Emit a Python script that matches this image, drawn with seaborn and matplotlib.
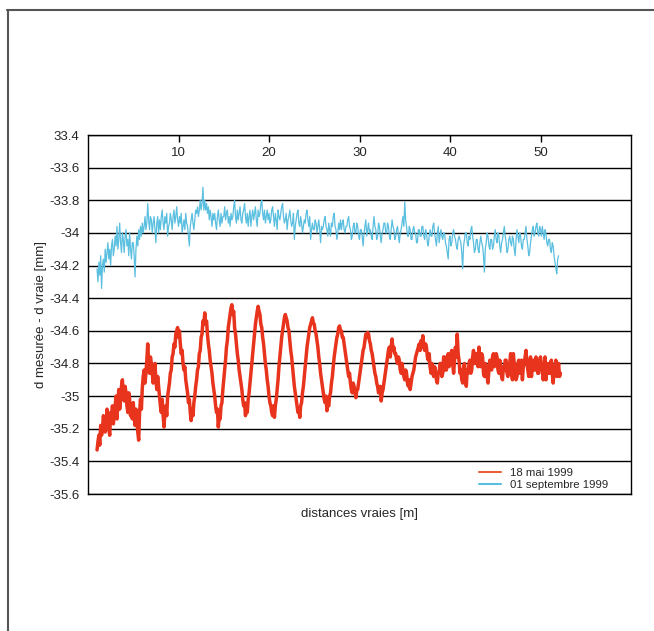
import numpy as np
import pandas as pd
import matplotlib
matplotlib.use("Agg")
import matplotlib.pyplot as plt
from matplotlib.lines import Line2D
import seaborn as sns

# ---------------- data ----------------
red_label = "18 mai 1999"
blue_label = "01 septembre 1999"

# distance of first sample [m] and sampling step [m]
red_start, red_step = 1.0, 0.1
red_values = [
    -35.33, -35.28, -35.24, -35.30, -35.18, -35.24, -35.20, -35.12, -35.16, -35.22,
    -35.19, -35.08, -35.14, -35.20, -35.24, -35.10, -35.16, -35.06, -35.17, -35.12,
    -35.06, -35.00, -35.14, -35.04, -34.96, -35.08, -35.02, -34.94, -34.90, -35.00,
    -35.03, -34.94, -34.98, -35.06, -35.10, -34.98, -35.02, -35.12, -35.06, -35.14,
    -35.04, -35.12, -35.18, -35.08, -35.14, -35.22, -35.27, -35.10, -35.02, -35.08,
    -34.95, -34.88, -34.84, -34.92, -34.86, -34.78, -34.68, -34.80, -34.86, -34.76,
    -34.80, -34.86, -34.92, -34.84, -34.80, -34.90, -34.96, -34.88, -34.94, -35.00,
    -35.06, -35.10, -35.02, -35.12, -35.19, -35.10, -35.06, -35.12, -35.00, -34.96,
    -34.92, -34.86, -34.84, -34.76, -34.74, -34.68, -34.70, -34.62, -34.60, -34.58,
    -34.64, -34.60, -34.68, -34.74, -34.72, -34.80, -34.84, -34.82, -34.90, -34.94,
    -34.98, -35.04, -35.02, -35.10, -35.15, -35.08, -35.12, -35.04, -35.00, -34.94,
    -34.90, -34.84, -34.82, -34.74, -34.72, -34.64, -34.62, -34.54, -34.56, -34.49,
    -34.56, -34.54, -34.62, -34.68, -34.72, -34.78, -34.82, -34.86, -34.92, -34.96,
    -35.00, -35.06, -35.10, -35.08, -35.19, -35.12, -35.14, -35.06, -35.04, -34.96,
    -34.90, -34.84, -34.78, -34.70, -34.66, -34.58, -34.54, -34.50, -34.46, -34.44,
    -34.50, -34.48, -34.58, -34.62, -34.68, -34.74, -34.78, -34.84, -34.88, -34.92,
    -34.96, -35.02, -35.06, -35.04, -35.12, -35.08, -35.10, -35.02, -34.98, -34.92,
    -34.86, -34.80, -34.74, -34.68, -34.62, -34.56, -34.52, -34.48, -34.45, -34.48,
    -34.50, -34.56, -34.58, -34.64, -34.68, -34.74, -34.80, -34.84, -34.90, -34.94,
    -35.00, -35.04, -35.06, -35.10, -35.12, -35.06, -35.13, -35.06, -35.02, -34.96,
    -34.90, -34.82, -34.76, -34.70, -34.64, -34.60, -34.56, -34.52, -34.50, -34.52,
    -34.54, -34.58, -34.60, -34.66, -34.72, -34.76, -34.82, -34.88, -34.94, -34.98,
    -35.02, -35.06, -35.10, -35.08, -35.13, -35.06, -35.04, -34.98, -34.94, -34.88,
    -34.82, -34.76, -34.70, -34.66, -34.62, -34.58, -34.56, -34.54, -34.52, -34.55,
    -34.56, -34.60, -34.62, -34.66, -34.70, -34.76, -34.80, -34.86, -34.90, -34.94,
    -34.98, -35.02, -35.04, -35.00, -35.09, -35.04, -35.06, -35.00, -34.98, -34.92,
    -34.88, -34.82, -34.76, -34.72, -34.68, -34.64, -34.62, -34.58, -34.57, -34.60,
    -34.60, -34.64, -34.64, -34.68, -34.72, -34.76, -34.80, -34.84, -34.88, -34.86,
    -34.92, -34.96, -34.98, -34.92, -34.94, -34.98, -35.01, -34.96, -34.96, -34.92,
    -34.88, -34.84, -34.80, -34.76, -34.72, -34.70, -34.66, -34.62, -34.64, -34.61,
    -34.62, -34.66, -34.68, -34.72, -34.74, -34.78, -34.82, -34.86, -34.88, -34.92,
    -34.94, -34.98, -34.98, -34.94, -35.03, -34.98, -34.96, -34.92, -34.88, -34.84,
    -34.80, -34.76, -34.72, -34.70, -34.76, -34.70, -34.65, -34.72, -34.70, -34.74,
    -34.74, -34.78, -34.80, -34.76, -34.78, -34.84, -34.86, -34.80, -34.84, -34.88,
    -34.90, -34.84, -34.86, -34.92, -34.94, -34.90, -34.96, -34.92, -34.88, -34.86,
    -34.84, -34.80, -34.76, -34.74, -34.72, -34.70, -34.68, -34.72, -34.66, -34.70,
    -34.63, -34.70, -34.72, -34.68, -34.70, -34.76, -34.78, -34.74, -34.82, -34.86,
    -34.80, -34.86, -34.88, -34.82, -34.84, -34.90, -34.92, -34.86, -34.86, -34.80,
    -34.80, -34.88, -34.86, -34.76, -34.76, -34.84, -34.84, -34.78, -34.74, -34.82,
    -34.80, -34.74, -34.72, -34.80, -34.86, -34.78, -34.70, -34.76, -34.62, -34.74,
    -34.78, -34.86, -34.84, -34.90, -34.92, -34.82, -34.80, -34.88, -34.94, -34.84,
    -34.86, -34.80, -34.78, -34.86, -34.84, -34.76, -34.72, -34.80, -34.80, -34.74,
    -34.76, -34.82, -34.70, -34.78, -34.82, -34.74, -34.76, -34.86, -34.88, -34.80,
    -34.82, -34.88, -34.92, -34.84, -34.78, -34.82, -34.84, -34.76, -34.74, -34.82,
    -34.80, -34.74, -34.76, -34.84, -34.86, -34.78, -34.82, -34.88, -34.90, -34.82,
    -34.84, -34.78, -34.78, -34.86, -34.88, -34.82, -34.80, -34.74, -34.86, -34.90,
    -34.74, -34.80, -34.82, -34.90, -34.88, -34.80, -34.78, -34.86, -34.84, -34.78,
    -34.90, -34.82, -34.80, -34.76, -34.72, -34.80, -34.84, -34.88, -34.80, -34.76,
    -34.88, -34.82, -34.78, -34.84, -34.84, -34.76, -34.80, -34.86, -34.86, -34.78,
    -34.76, -34.82, -34.84, -34.90, -34.82, -34.76, -34.90, -34.84, -34.80, -34.86,
    -34.86, -34.80, -34.78, -34.86, -34.92, -34.84, -34.82, -34.78, -34.88, -34.84,
    -34.80, -34.88, -34.86,
]

blue_start, blue_step = 1.0, 0.1
blue_values = [
    -34.22, -34.30, -34.18, -34.26, -34.14, -34.34, -34.20, -34.16, -34.24, -34.10,
    -34.18, -34.12, -34.06, -34.16, -34.10, -34.20, -34.08, -34.04, -34.14, -34.10,
    -34.02, -34.08, -33.96, -34.10, -34.04, -33.94, -34.06, -34.12, -34.00, -34.04,
    -34.12, -34.02, -33.98, -34.08, -34.04, -34.14, -34.00, -34.10, -34.16, -34.06,
    -34.06, -34.14, -34.27, -34.10, -34.02, -34.08, -33.98, -34.04, -33.96, -34.02,
    -33.94, -34.00, -33.96, -33.90, -33.98, -33.94, -33.82, -33.92, -33.98, -33.90,
    -33.92, -34.00, -33.94, -33.90, -33.98, -34.06, -33.94, -33.90, -34.00, -33.92,
    -33.98, -33.90, -33.86, -33.94, -33.98, -33.90, -33.94, -33.88, -34.02, -33.96,
    -33.94, -33.88, -33.92, -33.98, -33.90, -33.86, -33.94, -33.90, -33.84, -33.92,
    -33.96, -33.90, -33.94, -33.88, -34.00, -33.96, -33.92, -33.98, -33.88, -33.94,
    -33.96, -34.02, -34.08, -33.96, -33.92, -33.88, -33.94, -33.98, -33.92, -33.86,
    -33.88, -33.84, -33.90, -33.86, -33.80, -33.86, -33.82, -33.72, -33.86, -33.80,
    -33.86, -33.82, -33.88, -33.84, -33.92, -33.86, -33.90, -33.96, -33.88, -33.92,
    -33.88, -33.94, -33.98, -33.90, -33.86, -33.92, -33.96, -33.88, -33.94, -33.90,
    -33.90, -33.84, -33.92, -33.88, -33.86, -33.94, -33.90, -33.96, -33.88, -33.92,
    -33.90, -33.84, -33.80, -33.90, -33.94, -33.86, -33.92, -33.88, -33.84, -33.92,
    -33.94, -33.88, -33.86, -33.82, -33.90, -33.94, -33.88, -33.96, -33.90, -33.86,
    -33.96, -33.90, -33.86, -33.92, -33.88, -33.84, -33.92, -33.96, -33.86, -33.90,
    -33.88, -33.82, -33.80, -33.88, -33.92, -33.86, -33.94, -33.90, -33.86, -33.92,
    -33.88, -33.94, -33.92, -33.86, -33.84, -33.90, -33.96, -33.88, -33.92, -33.98,
    -33.86, -33.90, -33.92, -33.88, -33.84, -33.82, -33.90, -33.94, -33.92, -33.88,
    -33.98, -33.92, -33.90, -33.86, -33.92, -33.96, -33.94, -33.88, -34.04, -33.96,
    -33.92, -33.88, -33.86, -33.94, -33.96, -33.90, -33.94, -34.00, -33.96, -33.92,
    -33.94, -33.88, -33.86, -33.92, -33.96, -33.90, -34.04, -33.98, -33.94, -33.98,
    -33.98, -33.92, -33.94, -34.00, -33.96, -33.92, -33.98, -34.06, -33.96, -33.98,
    -33.96, -33.92, -33.90, -33.96, -33.98, -34.02, -33.94, -33.98, -34.02, -33.94,
    -33.96, -33.90, -33.88, -33.96, -33.98, -34.04, -34.00, -33.94, -33.98, -33.92,
    -33.98, -33.94, -33.92, -33.98, -34.00, -33.96, -33.96, -33.92, -33.90, -33.96,
    -33.98, -34.04, -34.02, -33.96, -33.94, -34.00, -34.00, -33.94, -33.96, -34.02,
    -34.04, -33.98, -33.98, -34.02, -34.08, -34.00, -33.96, -33.92, -34.02, -33.98,
    -33.94, -34.00, -33.98, -34.02, -34.04, -33.96, -33.90, -33.96, -33.98, -34.04,
    -34.02, -33.94, -33.96, -34.02, -34.06, -34.00, -33.98, -33.94, -33.94, -34.00,
    -34.00, -33.94, -33.96, -34.02, -34.04, -33.98, -33.92, -33.96, -33.98, -34.04,
    -34.02, -33.98, -33.96, -34.02, -34.06, -34.00, -33.98, -33.94, -33.90, -33.96,
    -33.81, -33.92, -33.96, -34.02, -34.02, -33.96, -33.98, -34.04, -34.04, -33.98,
    -33.96, -34.00, -34.00, -34.06, -34.06, -33.98, -33.98, -34.02, -34.02, -33.96,
    -33.96, -34.02, -34.04, -33.98, -34.00, -34.06, -34.08, -34.02, -33.98, -34.02,
    -34.02, -33.96, -33.94, -34.00, -34.04, -34.08, -34.00, -33.96, -34.06, -34.02,
    -33.98, -34.02, -34.04, -34.00, -34.00, -34.06, -34.08, -34.12, -34.16, -34.04,
    -34.02, -34.08, -34.06, -34.00, -33.98, -34.02, -34.04, -34.08, -34.10, -34.04,
    -34.02, -34.04, -34.06, -34.12, -34.22, -34.08, -34.04, -34.00, -34.00, -34.06,
    -34.08, -34.02, -34.04, -33.98, -33.96, -34.02, -34.06, -34.12, -34.10, -34.04,
    -34.04, -34.10, -34.12, -34.06, -34.02, -34.06, -34.08, -34.14, -34.24, -34.10,
    -34.06, -34.00, -34.02, -34.08, -34.10, -34.04, -34.04, -34.10, -34.08, -34.02,
    -33.98, -34.04, -34.06, -34.00, -34.02, -34.08, -34.12, -34.06, -34.04, -34.00,
    -33.96, -34.02, -34.06, -34.12, -34.10, -34.04, -34.02, -34.06, -34.08, -34.02,
    -34.04, -34.10, -34.14, -34.04, -33.98, -34.02, -34.06, -34.00, -34.02, -34.08,
    -34.10, -34.04, -34.04, -34.00, -33.96, -34.04, -34.08, -34.14, -34.12, -34.06,
    -34.02, -33.98, -33.96, -34.02, -34.00, -33.96, -33.94, -34.00, -34.02, -33.96,
    -33.98, -34.02, -33.96, -34.00, -34.04, -33.98, -34.00, -34.06, -34.08, -34.04,
    -34.04, -34.10, -34.12, -34.06, -34.08, -34.14, -34.18, -34.22, -34.25, -34.16,
    -34.14,
]

x_ticks = [10, 20, 30, 40, 50]
y_ticks = [-33.4, -33.6, -33.8, -34.0, -34.2, -34.4, -34.6, -34.8, -35.0, -35.2, -35.4, -35.6]
y_tick_labels = ["33.4", "-33.6", "-33.8", "-34", "-34.2", "-34.4", "-34.6", "-34.8",
                 "-35", "-35.2", "-35.4", "-35.6"]
x_label = "distances vraies [m]"
y_label = "d mesurée - d vraie [mm]"

# ---------------- build tables ----------------
red_x = red_start + red_step * np.arange(len(red_values))
blue_x = blue_start + blue_step * np.arange(len(blue_values))
df_red = pd.DataFrame({"x": red_x, "y": red_values})
df_blue = pd.DataFrame({"x": blue_x, "y": blue_values})

# ---------------- style ----------------
sns.set_style("white")
plt.rcParams["font.family"] = ["Liberation Sans", "DejaVu Sans"]

RED = "#e8341c"
BLUE = "#5bbfe0"

fig = plt.figure(figsize=(6.54, 6.31), dpi=100)
ax = fig.add_axes([88 / 654, 1 - 494 / 631, (631 - 88) / 654, (494 - 135) / 631])

sns.lineplot(data=df_red, x="x", y="y", ax=ax, color=RED, linewidth=2.5,
             estimator=None, sort=False, label=red_label)
sns.lineplot(data=df_blue, x="x", y="y", ax=ax, color=BLUE, linewidth=0.9,
             estimator=None, sort=False, label=blue_label)

ax.set_xlim(0, 60)
ax.set_ylim(-35.6, -33.4)

for yv in y_ticks:
    ax.axhline(yv, color="black", linewidth=1.0, zorder=0)

ax.set_yticks(y_ticks)
ax.set_yticklabels(y_tick_labels, fontsize=9.5)
ax.tick_params(axis="y", length=0, pad=6)

ax.set_xticks(x_ticks)
ax.set_xticklabels([str(v) for v in x_ticks], fontsize=9.5)
ax.tick_params(axis="x", bottom=False, top=True, labelbottom=False, labeltop=True,
               direction="in", length=5, width=1, color="black", pad=-17)

for s in ax.spines.values():
    s.set_color("black")
    s.set_linewidth(1.0)

ax.set_xlabel(x_label, fontsize=9.5, labelpad=10)
ax.xaxis.set_label_position("bottom")
ax.set_ylabel(y_label, fontsize=9.5, labelpad=2)

leg = ax.legend(loc="lower right", frameon=False, fontsize=8.2,
                handlelength=1.9, handletextpad=0.8, labelspacing=0.12,
                borderpad=0.0, borderaxespad=0.0, bbox_to_anchor=(0.958, 0.012))
leg.get_lines()[0].set_color("#e8603a")
leg.get_lines()[0].set_linewidth(1.5)
leg.get_lines()[1].set_linewidth(1.5)

# page frame (top and left edges)
fig.add_artist(Line2D([7 / 654, 1.0], [1 - 10 / 631, 1 - 10 / 631],
                      transform=fig.transFigure, color="#555555", linewidth=1.5))
fig.add_artist(Line2D([8 / 654, 8 / 654], [0.0, 1 - 10 / 631],
                      transform=fig.transFigure, color="#555555", linewidth=1.5))

fig.savefig("out.png", dpi=100)
